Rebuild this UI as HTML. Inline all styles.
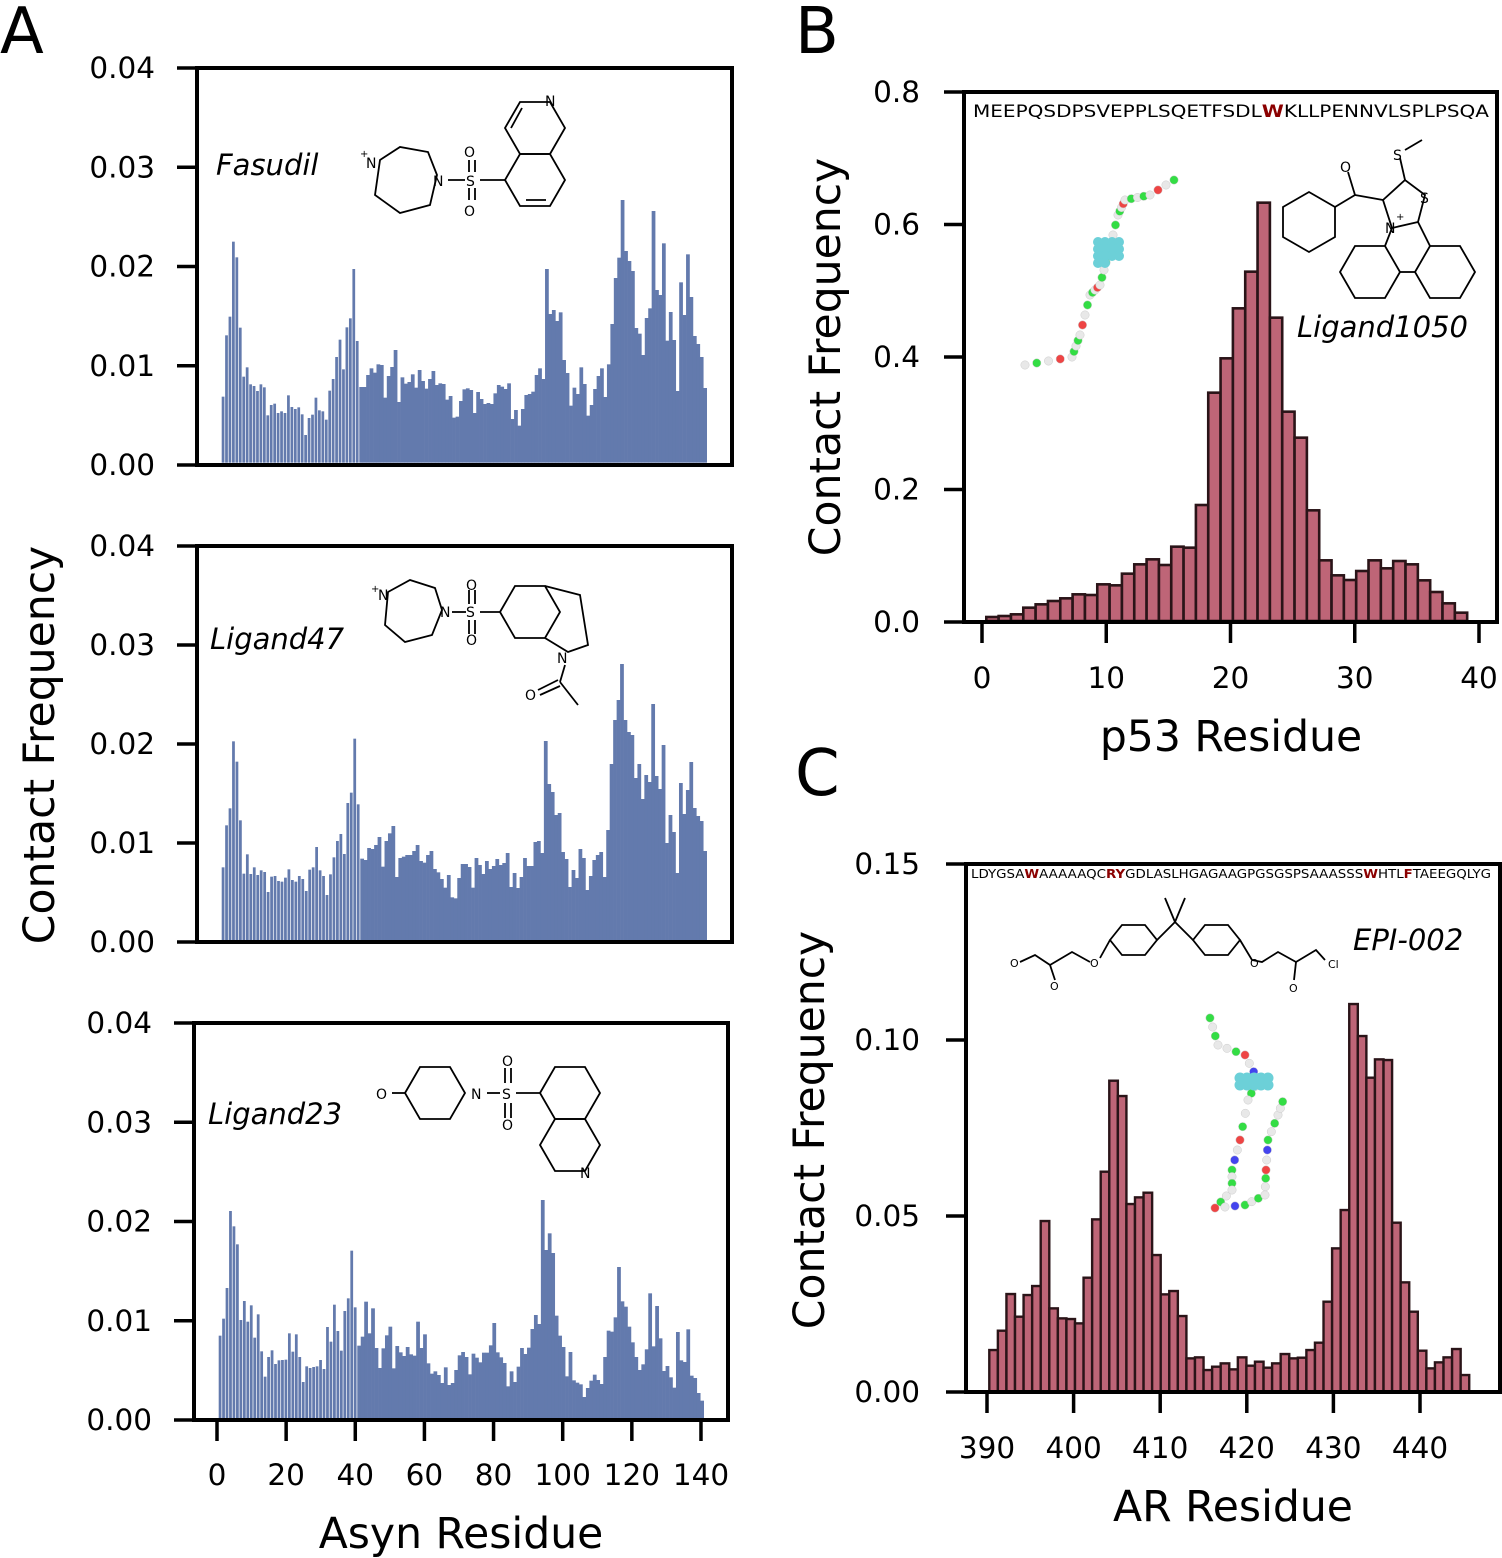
<!DOCTYPE html>
<html><head><meta charset="utf-8"><style>
html,body{margin:0;padding:0;background:#fff}
svg{display:block}
text{font-family:"DejaVu Sans","Liberation Sans",sans-serif;fill:#000}
.t{font-size:29.5px}
.lab{font-size:42.5px}
.it{font-style:italic;font-size:29px}
.m{font-size:14px}
</style></head><body>
<svg id="s" width="1502" height="1558" viewBox="0 0 1502 1558" xmlns="http://www.w3.org/2000/svg">
<g id="bars"></g>
<g fill="none" stroke="#000" stroke-width="4">
<rect x="197" y="68" width="535" height="397"/>
<rect x="197" y="546" width="535" height="396"/>
<rect x="194" y="1023" width="534" height="397"/>
<rect x="964" y="92" width="533" height="530"/>
<rect x="966" y="864" width="534" height="528"/>
</g>
<g id="ticks" stroke="#000" stroke-width="3.5"></g>
<g id="tl"></g>
<text x="0" y="53" style="font-size:64px">A</text>
<text x="795" y="53" style="font-size:64px">B</text>
<text x="795" y="795" style="font-size:64px">C</text>
<text class="lab" transform="translate(54,745) rotate(-90)" text-anchor="middle">Contact Frequency</text>
<text class="lab" x="461" y="1548" text-anchor="middle">Asyn Residue</text>
<text class="lab" transform="translate(840,357) rotate(-90)" text-anchor="middle">Contact Frequency</text>
<text class="lab" x="1231" y="751" text-anchor="middle">p53 Residue</text>
<text class="lab" transform="translate(824,1130) rotate(-90)" text-anchor="middle">Contact Frequency</text>
<text class="lab" x="1233" y="1521" text-anchor="middle">AR Residue</text>
<text class="it" x="216" y="175">Fasudil</text>
<text class="it" x="210" y="649">Ligand47</text>
<text class="it" x="208" y="1124">Ligand23</text>
<text class="it" x="1297" y="337">Ligand1050</text>
<text class="it" x="1353" y="950">EPI-002</text>
<text x="973" y="117" style="font-size:17px" textLength="516" lengthAdjust="spacingAndGlyphs">MEEPQSDPSVEPPLSQETFSDL<tspan font-weight="bold" style="fill:#8b0000">W</tspan>KLLPENNVLSPLPSQA</text>
<text x="971" y="878" style="font-size:12.5px" textLength="520" lengthAdjust="spacingAndGlyphs">LDYGSA<tspan style="fill:#8b0000" font-weight="bold">W</tspan>AAAAAQC<tspan style="fill:#8b0000" font-weight="bold">RY</tspan>GDLASLHGAGAAGPGSGSPSAAASSS<tspan style="fill:#8b0000" font-weight="bold">W</tspan>HTL<tspan style="fill:#8b0000" font-weight="bold">F</tspan>TAEEGQLYG</text>
<g fill="none" stroke="#000" stroke-width="1.8">
<polygon points="380,160 400,147 428,152 437,175 430,205 400,213 375,195"/>
<line x1="448" y1="180" x2="465" y2="180"/><line x1="480" y1="180" x2="505" y2="180"/>
<line x1="469" y1="160" x2="469" y2="172"/><line x1="475" y1="160" x2="475" y2="172"/>
<line x1="469" y1="188" x2="469" y2="200"/><line x1="475" y1="188" x2="475" y2="200"/>
<polygon points="565,180 550,206 520,206 505,180 520,154 550,154"/>
<polygon points="550,154 565,128 550,102 520,102 505,128 520,154"/>
<line x1="526" y1="200" x2="546" y2="200"/><line x1="511" y1="128" x2="522" y2="108"/>
<polygon points="388,592 410,580 435,588 442,610 432,635 405,642 385,625"/>
<line x1="452" y1="612" x2="466" y2="612"/><line x1="480" y1="612" x2="500" y2="612"/>
<line x1="469" y1="590" x2="469" y2="604"/><line x1="475" y1="590" x2="475" y2="604"/>
<line x1="469" y1="620" x2="469" y2="634"/><line x1="475" y1="620" x2="475" y2="634"/>
<polygon points="500,612 515,586 545,586 560,612 545,638 515,638"/>
<polyline points="545,586 580,595 588,645 568,652 545,638"/>
<line x1="565" y1="665" x2="560" y2="682"/><line x1="560" y1="682" x2="578" y2="705"/><line x1="558" y1="680" x2="538" y2="690"/><line x1="560" y1="686" x2="540" y2="695"/>
<line x1="392" y1="1093" x2="405" y2="1093"/>
<polygon points="405,1093 420,1067 450,1067 465,1093 450,1119 420,1119"/>
<line x1="487" y1="1093" x2="500" y2="1093"/><line x1="516" y1="1093" x2="540" y2="1093"/>
<line x1="505" y1="1068" x2="505" y2="1083"/><line x1="511" y1="1068" x2="511" y2="1083"/>
<line x1="505" y1="1103" x2="505" y2="1118"/><line x1="511" y1="1103" x2="511" y2="1118"/>
<polygon points="540,1093 555,1067 585,1067 600,1093 585,1119 555,1119"/>
<polygon points="555,1119 585,1119 600,1145 585,1171 555,1171 540,1145"/>
<!-- Ligand1050 -->
<polygon points="1335,207 1335,237 1309,252 1283,237 1283,207 1309,192"/>
<line x1="1335" y1="207" x2="1355" y2="195"/><line x1="1355" y1="195" x2="1348" y2="172"/><line x1="1355" y1="195" x2="1383" y2="200"/>
<polygon points="1383,200 1405,180 1425,195 1418,222 1392,228"/>
<line x1="1405" y1="180" x2="1400" y2="158"/><line x1="1405" y1="150" x2="1422" y2="140"/>
<line x1="1392" y1="228" x2="1385" y2="246"/><line x1="1418" y1="222" x2="1430" y2="246"/>
<polygon points="1400,272 1385,298 1355,298 1340,272 1355,246 1385,246"/>
<polygon points="1475,272 1460,298 1430,298 1415,272 1430,246 1460,246"/>
<line x1="1400" y1="272" x2="1415" y2="272"/>
<polyline points="1020,962 1035,955 1050,965 1055,980"/><polyline points="1050,965 1072,952 1090,962"/>
<polygon points="1110,940 1122,925 1145,925 1157,940 1145,955 1122,955"/>
<line x1="1100" y1="958" x2="1110" y2="940"/>
<polyline points="1157,940 1175,922 1193,940"/><line x1="1175" y1="922" x2="1165" y2="898"/><line x1="1175" y1="922" x2="1185" y2="898"/>
<polygon points="1193,940 1205,925 1228,925 1240,940 1228,955 1205,955"/>
<polyline points="1240,940 1252,960 1262,962 1278,952 1296,962 1316,950 1325,960"/><line x1="1296" y1="962" x2="1294" y2="980"/>
</g>
<g class="m">
<text x="366" y="168">N</text><text x="360" y="157" style="font-size:10px">+</text>
<text x="433" y="186">N</text><text x="466" y="186">S</text><text x="464" y="157">O</text><text x="464" y="216">O</text><text x="545" y="106">N</text>
<text x="378" y="600">N</text><text x="371" y="592" style="font-size:10px">+</text><text x="440" y="617">N</text><text x="466" y="617">S</text><text x="466" y="590">O</text><text x="466" y="645">O</text><text x="557" y="663">N</text><text x="525" y="700">O</text>
<text x="376" y="1099">O</text><text x="471" y="1099">N</text><text x="502" y="1099">S</text><text x="502" y="1066">O</text><text x="502" y="1130">O</text><text x="580" y="1178">N</text>
<text x="1340" y="172">O</text><text x="1420" y="203">S</text><text x="1393" y="160">S</text><text x="1385" y="233">N</text><text x="1396" y="220" style="font-size:10px">+</text>
<text x="1010" y="967" style="font-size:11px">O</text><text x="1050" y="990" style="font-size:11px">O</text><text x="1090" y="967" style="font-size:11px">O</text><text x="1250" y="967" style="font-size:11px">O</text><text x="1289" y="992" style="font-size:11px">O</text><text x="1328" y="968" style="font-size:11px">Cl</text>
</g>
<g id="beads"></g>
</svg>
<script>
var NS="http://www.w3.org/2000/svg";
function el(p,n,a){var e=document.createElementNS(NS,n);for(var k in a)e.setAttribute(k,a[k]);p.appendChild(e);return e;}
var bars=document.getElementById('bars'),ticks=document.getElementById('ticks'),tl=document.getElementById('tl'),beads=document.getElementById('beads');
var A1=[605,421,365,140,187,398,545,517,568,573,588,568,577,661,630,626,654,649,654,601,636,642,637,658,720,669,659,608,646,649,674,587,552,486,434,523,397,370,222,438,576,576,540,520,533,508,510,608,543,516,465,621,547,566,561,538,578,525,558,581,552,528,570,565,567,614,603,668,665,618,583,580,585,654,591,612,627,624,627,595,570,575,582,565,672,645,692,642,600,597,590,540,520,552,222,357,345,378,352,495,534,632,578,597,517,567,662,630,582,543,520,606,508,387,249,188,15,168,198,228,399,416,480,369,340,48,285,300,145,437,351,435,588,262,360,178,306,423,447,486,579];
var A2=[637,511,460,259,320,496,656,598,657,637,660,646,651,711,665,663,678,680,668,643,675,680,663,672,708,644,637,576,646,663,720,658,607,558,537,597,444,413,251,448,611,615,579,582,570,546,635,558,535,513,666,609,605,600,600,588,570,618,623,600,588,642,652,672,698,660,727,730,669,627,627,636,698,609,630,657,618,642,633,612,630,624,594,696,654,699,666,609,633,633,561,558,594,258,387,411,480,474,591,612,696,645,669,582,609,705,663,615,600,591,666,525,327,195,135,27,195,231,240,369,327,432,360,381,147,363,402,270,564,480,531,654,384,477,405,321,459,483,498,588];
var A3=[437,386,294,63,109,163,390,333,395,346,443,373,484,560,501,481,522,511,510,509,430,485,433,501,576,529,534,531,529,510,537,411,455,344,423,482,363,325,182,352,467,440,335,430,355,474,534,475,436,410,535,468,487,498,471,493,497,395,474,433,520,551,544,555,579,532,585,579,540,496,486,501,553,491,503,517,488,488,466,399,487,502,519,589,544,576,530,474,492,473,417,375,402,30,180,130,189,377,437,471,559,486,571,578,583,621,594,572,554,570,582,501,422,425,382,231,334,350,410,457,501,540,523,478,310,469,348,445,543,528,562,593,426,511,516,418,557,564,609,632];
function abars(arr,x0,x1,oy,zb){var w=(x1-x0)/arr.length;arr.forEach(function(t,i){var h=(zb-t)/3,y0=oy+zb/3;el(bars,'rect',{x:x0+i*w,y:y0-h,width:i<40?w-0.7:w+0.3,height:h,fill:'#637aad'});});}
abars(A1,221.7,706.7,195,803);
abars(A2,221.7,706.7,655,856);
abars(A3,218.7,703.7,1190,685);
var B=[1278,1275,1270,1250,1240,1230,1222,1210,1212,1180,1183,1148,1120,1105,1122,1067,1070,942,605,502,352,242,35,380,662,740,958,1108,1153,1167,1140,1108,1132,1110,1120,1168,1203,1237,1265];
B.forEach(function(t,i){var w=12.33,h=(1290-t)/3;el(bars,'rect',{x:986.3+i*w,y:621-h,width:w,height:h,fill:'#be6577',stroke:'#2a1418','stroke-width':2.6});});
var C=[1080,1022,912,980,915,888,693,955,985,987,1000,863,688,545,272,318,642,622,608,795,913,903,978,1105,1102,1140,1130,1120,1138,1102,1127,1115,1133,1120,1092,1105,1103,1080,1058,935,775,660,42,138,263,208,210,698,877,965,1082,1135,1117,1102,1077,1155];
C.forEach(function(t,i){var w=8.57,h=(1205-t)/3;el(bars,'rect',{x:989.3+i*w,y:1391.7-h,width:w,height:h,fill:'#be6577',stroke:'#2a1418','stroke-width':2.4});});
function txt(x,y,s,anc){var e=el(tl,'text',{x:x,y:y,'text-anchor':anc,'class':'t'});e.textContent=s;}
[[68,465,197,155],[546,942,197,155],[1023,1420,194,152]].forEach(function(p){for(var k=0;k<5;k++){var y=p[1]-(p[1]-p[0])*k/4;el(ticks,'line',{x1:p[2]-20,y1:y,x2:p[2],y2:y});txt(p[3],y+10,(k/100).toFixed(2),'end');}});
for(var v=0;v<=140;v+=20){var x=217+v*3.457;el(ticks,'line',{x1:x,y1:1420,x2:x,y2:1441});txt(x,1485,String(v),'middle');}
for(var k=0;k<5;k++){var y=622-k*132.5;el(ticks,'line',{x1:944,y1:y,x2:964,y2:y});txt(920,y+10,(k*0.2).toFixed(1),'end');}
for(var v=0;v<=40;v+=10){var x=982+v*12.425;el(ticks,'line',{x1:x,y1:622,x2:x,y2:643});txt(x,688,String(v),'middle');}
for(var k=0;k<4;k++){var y=1392-k*176;el(ticks,'line',{x1:946,y1:y,x2:966,y2:y});txt(920,y+10,(k*0.05).toFixed(2),'end');}
for(var v=390;v<=440;v+=10){var x=987+(v-390)*8.66;el(ticks,'line',{x1:x,y1:1392,x2:x,y2:1413});txt(x,1458,String(v),'middle');}
function chain(pts,cols){pts.forEach(function(p,i){el(beads,'circle',{cx:p[0],cy:p[1],r:4.2,fill:cols[i%cols.length],stroke:'#ccc','stroke-width':0.5});});}
var bp=[],cb=['#e8e8e8','#33dd44','#e8e8e8','#ee4444','#e8e8e8','#33dd44'];
var path=[[1025,365],[1072,357],[1080,335],[1090,295],[1100,285],[1108,255],[1118,215],[1125,200],[1150,195],[1182,175]];
for(var i=0;i<path.length-1;i++){for(var t=0;t<4;t++){bp.push([path[i][0]+(path[i+1][0]-path[i][0])*t/4,path[i][1]+(path[i+1][1]-path[i][1])*t/4]);}}
chain(bp,cb);
for(var i=0;i<14;i++){el(beads,'circle',{cx:1098+(i%4)*7,cy:242+Math.floor(i/4)*7,r:5,fill:'#6cd0d8'});}
var cp=[[1210,1018],[1218,1045],[1245,1055],[1258,1080],[1248,1100],[1240,1140],[1232,1170],[1232,1190],[1215,1208],[1245,1205],[1265,1195],[1266,1170],[1268,1140],[1278,1115],[1285,1095]];
var cq=[];for(var i=0;i<cp.length-1;i++){for(var t=0;t<3;t++){cq.push([cp[i][0]+(cp[i+1][0]-cp[i][0])*t/3,cp[i][1]+(cp[i+1][1]-cp[i][1])*t/3]);}}
chain(cq,['#33dd44','#e8e8e8','#33dd44','#e8e8e8','#e8e8e8','#33dd44','#ee4444','#e8e8e8','#4444ee']);
for(var i=0;i<10;i++){el(beads,'circle',{cx:1240+(i%5)*7,cy:1078+Math.floor(i/5)*7,r:5.5,fill:'#6cd0d8'});}
</script>
</body></html>
